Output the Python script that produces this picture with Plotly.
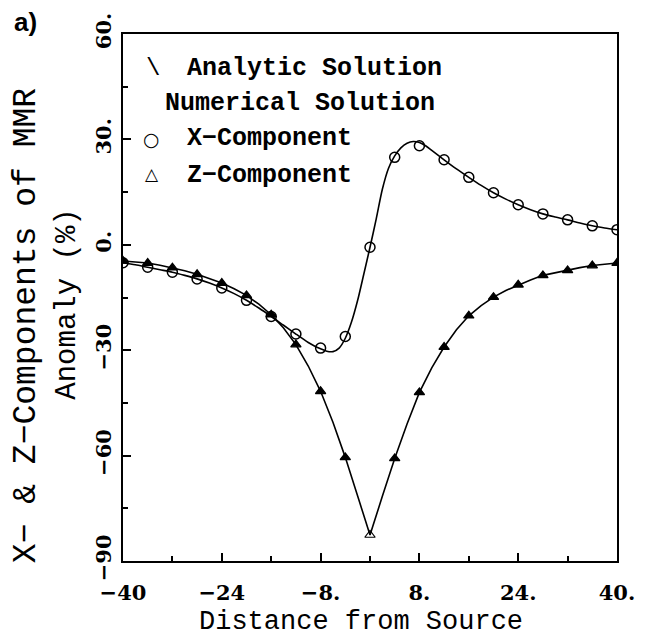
import plotly.graph_objects as go

# ---- data ----
x_num = [-40, -36, -32, -28, -24, -20, -16, -12, -8, -4, 0, 4, 8, 12, 16, 20, 24, 28, 32, 36, 40]
x_comp_num = [-5.1, -6.4, -7.8, -9.7, -12.3, -15.8, -20.4, -25.4, -29.4, -26.1, -0.7,
              24.9, 28.2, 24.2, 19.2, 14.8, 11.4, 8.8, 7.1, 5.4, 4.3]
z_comp_num = [-4.6, -5.2, -6.5, -8.4, -10.9, -14.4, -19.9, -28.4, -41.7, -60.5, -82.6,
              -60.8, -42.0, -29.1, -20.2, -14.9, -11.4, -8.7, -7.3, -5.9, -5.2]

x_an_x = [-40, -38, -36, -34, -32, -30, -28, -26, -24, -22, -20, -18, -16, -14, -12, -10,
          -9, -8, -7, -6, -5, -4, -3, -2, -1, 0, 1, 2, 3, 4, 5, 6, 7, 8, 9,
          10, 12, 14, 16, 18, 20, 22, 24, 26, 28, 30, 32, 34, 36, 38, 40]
x_comp_an = [-5.1, -5.7, -6.4, -7.1, -7.8, -8.7, -9.7, -10.9, -12.3, -13.9, -15.8, -18.0, -20.4, -22.9, -25.4, -27.8,
             -28.8, -29.6, -30.3, -30.4, -29.4, -26.6, -22.0, -15.8, -8.3, -0.7, 7.3, 15.8, 21.8, 25.3, 27.6, 28.9, 29.4, 29.1, 28.2,
             26.9, 24.2, 21.6, 19.2, 16.9, 14.8, 13.0, 11.4, 10.0, 8.8, 7.9, 7.1, 6.2, 5.4, 4.8, 4.3]

x_an_z = [-40, -38, -36, -34, -32, -30, -28, -26, -24, -22, -20, -18, -16, -14, -12, -10, -8, -6, -4, -2, 0,
          2, 4, 6, 8, 10, 12, 14, 16, 18, 20, 22, 24, 26, 28, 30, 32, 34, 36, 38, 40]
z_comp_an = [-4.6, -4.9, -5.2, -5.8, -6.5, -7.4, -8.4, -9.6, -10.9, -12.5, -14.4, -16.9, -19.9, -23.7, -28.4, -34.5, -41.7, -50.5, -60.5, -71.5, -82.6,
             -71.6, -60.8, -51.0, -42.0, -35.0, -29.1, -24.2, -20.2, -17.3, -14.9, -13.0, -11.4, -10.0, -8.7, -7.9, -7.3, -6.5, -5.9, -5.5, -5.2]

x_tickvals = [-40, -24, -8, 8, 24, 40]
x_ticktext = ["\u221240", "\u221224", "\u22128.", "8.", "24.", "40."]
y_tickvals = [60, 30, 0, -30, -60, -90]
y_ticktext = ["60.", "30.", "0.", "\u221230", "\u221260", "\u221290"]

legend_lines = ["Analytic Solution", "Numerical Solution", "X\u2212Component", "Z\u2212Component"]
x_title = "Distance from Source"
y_title_1 = "X\u2212\u00a0&\u00a0Z\u2212Components\u00a0of\u00a0MMR"
y_title_2 = "Anomaly\u00a0(%)"

# ---- layout geometry ----
W, H = 647, 642
L, R, T, B = 123, 24, 34, 81
PW, PH = W - L - R, H - T - B

def px(xp):
    return (xp - L) / PW

def py(yp):
    return (H - B - yp) / PH

fig = go.Figure()

fig.add_trace(go.Scatter(x=x_an_x, y=x_comp_an, mode="lines", line=dict(color="black", width=1.6, shape="spline", smoothing=0.8),
                         hoverinfo="skip", showlegend=False))
fig.add_trace(go.Scatter(x=x_an_z, y=z_comp_an, mode="lines", line=dict(color="black", width=1.6),
                         hoverinfo="skip", showlegend=False))

tri_symbols = ["triangle-up-open" if v == min(z_comp_num) else "triangle-up" for v in z_comp_num]
fig.add_trace(go.Scatter(x=x_num, y=z_comp_num, mode="markers",
                         marker=dict(symbol=tri_symbols, size=9, color="black", line=dict(color="black", width=1.2)),
                         showlegend=False))
fig.add_trace(go.Scatter(x=x_num, y=x_comp_num, mode="markers",
                         marker=dict(symbol="circle-open", size=10, color="black", line=dict(color="black", width=1.5)),
                         showlegend=False))

TXT = "Liberation Mono"

def note(xp, yp, text, family=TXT, size=25, xanchor="left", angle=0):
    return dict(x=px(xp), y=py(yp), xref="paper", yref="paper", text=text, textangle=angle,
                font=dict(family=family, size=size, color="black"), showarrow=False,
                xanchor=xanchor, yanchor="middle")

ann = [
    note(153, 68, "\\", size=24, xanchor="center"),
    note(186, 68, "<b>" + legend_lines[0] + "</b>"),
    note(163, 103, "<b>" + legend_lines[1] + "</b>"),
    note(152, 139, "\u25cb", family="DejaVu Sans", size=19, xanchor="center"),
    note(186, 138, "<b>" + legend_lines[2] + "</b>"),
    note(152, 174, "\u25b3", family="DejaVu Sans", size=17, xanchor="center"),
    note(186, 175, "<b>" + legend_lines[3] + "</b>"),
    note(364, 622, x_title, size=27, xanchor="center"),
    note(25, 326, y_title_1, size=33, xanchor="center", angle=-90),
    note(66, 304, y_title_2, size=29, xanchor="center", angle=-90),
    note(24, 22, "<b>a)</b>", family="Liberation Sans", size=26, xanchor="center"),
]

fig.update_layout(
    width=W, height=H,
    margin=dict(l=L, r=R, t=T, b=B),
    paper_bgcolor="white", plot_bgcolor="white",
    annotations=ann,
    showlegend=False,
)
fig.update_xaxes(range=[-40, 40], showgrid=False, zeroline=False,
                 showline=True, linecolor="black", linewidth=2, mirror=True,
                 tickmode="array", tickvals=x_tickvals, ticktext=x_ticktext,
                 ticks="inside", ticklen=8, tickwidth=1.5, tickcolor="black",
                 minor=dict(tickvals=[-32, -16, 0, 16, 32], ticks="inside", ticklen=5, tickwidth=1.5, tickcolor="black"),
                 tickfont=dict(family="DejaVu Serif", size=21, color="black", weight="bold"),
                 ticklabelstandoff=12)
fig.update_yaxes(range=[-90, 60], showgrid=False, zeroline=False,
                 showline=True, linecolor="black", linewidth=2, mirror=True,
                 tickmode="array", tickvals=y_tickvals, ticktext=y_ticktext,
                 ticks="inside", ticklen=8, tickwidth=1.5, tickcolor="black",
                 minor=dict(tickvals=[45, 15, -15, -45, -75], ticks="inside", ticklen=5, tickwidth=1.5, tickcolor="black"),
                 tickfont=dict(family="DejaVu Serif", size=21, color="black", weight="bold"),
                 tickangle=-90, ticklabelstandoff=2)

fig.write_html("out.html")
